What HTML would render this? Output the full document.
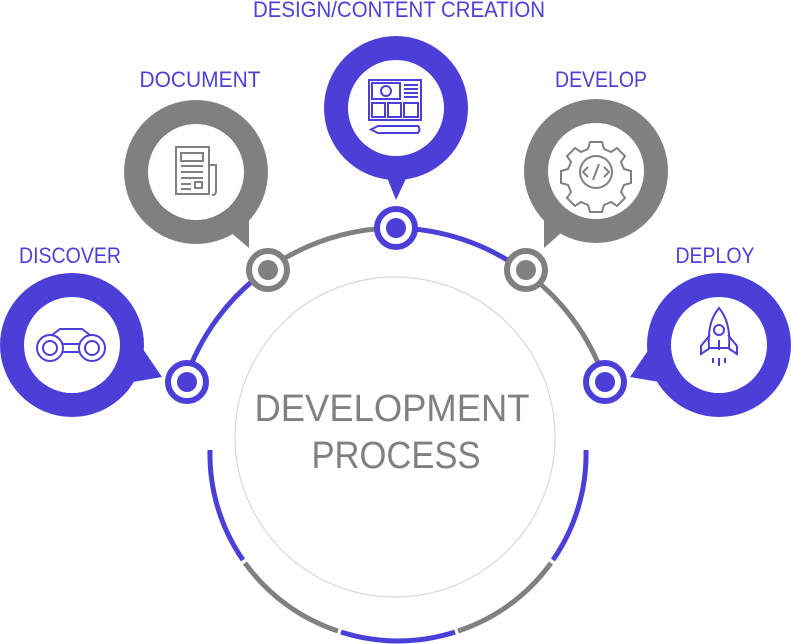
<!DOCTYPE html>
<html><head><meta charset="utf-8"><style>
html,body{margin:0;padding:0;background:#fff;}
svg{display:block}
.lbl{font-family:"Liberation Sans Narrow","Liberation Sans",sans-serif;fill:#4b3fd8;font-size:22px;}
.ctr{font-family:"Liberation Sans",sans-serif;fill:#808080;font-size:38px;font-weight:300}
</style></head><body>
<svg width="791" height="644" viewBox="0 0 791 644" xmlns="http://www.w3.org/2000/svg">
<defs></defs>
<!-- inner circle -->
<circle cx="395" cy="437" r="160" fill="none" stroke="#d6d6dc" stroke-width="1.2"/>
<!-- upper arc segments (center 396,450 r 222) -->
<g fill="none" stroke-width="5">
<path d="M185,381 A222,222 0 0 1 268,269" stroke="#4b3fd8"/>
<path d="M268,269 A222,222 0 0 1 396,228" stroke="#808080"/>
<path d="M396,228 A222,222 0 0 1 521,269" stroke="#4b3fd8"/>
<path d="M521,269 A222,222 0 0 1 605,381" stroke="#808080"/>
<!-- lower arc -->
<path d="M210,450 A186,186 0 0 0 243,560" stroke="#4b3fd8"/>
<path d="M245,563 A186,186 0 0 0 338,631" stroke="#808080"/>
<path d="M341,632 A186,186 0 0 0 455,632" stroke="#4b3fd8"/>
<path d="M458,631 A186,186 0 0 0 551,563" stroke="#808080"/>
<path d="M553,560 A186,186 0 0 0 586,450" stroke="#4b3fd8"/>
</g>
<!-- bubbles -->
<g>
<circle cx="72" cy="345" r="72" fill="#4b3fd8"/>
<path d="M130,330 L162,377 L115,385 Z" fill="#4b3fd8"/>
<circle cx="72" cy="345" r="48" fill="#fff"/>

<circle cx="196" cy="172" r="72" fill="#808080"/>
<path d="M222,225 L249,248 L249,205 Z" fill="#808080"/>
<circle cx="196" cy="172" r="48" fill="#fff"/>

<circle cx="396" cy="108" r="72" fill="#4b3fd8"/>
<path d="M384,170 L396,200 L410,170 Z" fill="#4b3fd8"/>
<circle cx="396" cy="108" r="48" fill="#fff"/>

<circle cx="596" cy="171" r="72" fill="#808080"/>
<path d="M570,225 L544,248 L544,205 Z" fill="#808080"/>
<circle cx="596" cy="171" r="48" fill="#fff"/>

<circle cx="719" cy="345" r="72" fill="#4b3fd8"/>
<path d="M662,330 L630,377 L677,385 Z" fill="#4b3fd8"/>
<circle cx="719" cy="345" r="48" fill="#fff"/>
</g>
<!-- nodes -->
<g>
<circle cx="187" cy="382" r="19" fill="#fff" stroke="#4b3fd8" stroke-width="6"/><circle cx="187" cy="382" r="10" fill="#4b3fd8"/>
<circle cx="268" cy="270" r="19" fill="#fff" stroke="#808080" stroke-width="6"/><circle cx="268" cy="270" r="10" fill="#808080"/>
<circle cx="396" cy="228" r="19" fill="#fff" stroke="#4b3fd8" stroke-width="6"/><circle cx="396" cy="228" r="10" fill="#4b3fd8"/>
<circle cx="526" cy="270" r="19" fill="#fff" stroke="#808080" stroke-width="6"/><circle cx="526" cy="270" r="10" fill="#808080"/>
<circle cx="605" cy="382" r="19" fill="#fff" stroke="#4b3fd8" stroke-width="6"/><circle cx="605" cy="382" r="10" fill="#4b3fd8"/>
</g>
<!-- icons -->
<g fill="none" stroke-width="2">
<!-- binoculars -->
<g stroke="#4b3fd8">
<circle cx="50" cy="348" r="13"/><circle cx="92" cy="348" r="13"/>
<circle cx="50" cy="348" r="7"/><circle cx="92" cy="348" r="7"/>
<path d="M63,344 h16 M63,352 h16 M52,335 l8,-6 h22 l8,6"/>
</g>
<!-- newspaper -->
<g stroke="#808080">
<path d="M176,147 h33 v47 h-33 z M209,165 h7 v26 q0,4 -4,4"/>
<path d="M181,153 h22 v8 h-22 z M181,166 h22 M181,172 h22 M181,178 h22 M181,184 h10 M195,182 h7 v6 h-7 z M181,189 h10"/>
</g>
<!-- design -->
<g stroke="#4b3fd8">
<rect x="369" y="80" width="52" height="40"/>
<rect x="372" y="83" width="28" height="16"/><circle cx="386" cy="91" r="5"/>
<path d="M404,85 h14 M404,89 h14 M404,93 h14 M404,97 h14"/>
<rect x="372" y="103" width="13" height="14"/><rect x="388" y="103" width="13" height="14"/><rect x="404" y="103" width="14" height="14"/>
<path d="M378,126 h40 q3,3 0,7 h-40 l-7,-3.5 z"/>
</g>
<!-- gear -->
<g stroke="#808080">
<path d="M590,142 h12 l2,7 l7,3 l6,-4 l8,8 l-4,6 l3,7 l7,2 v12 l-7,2 l-3,7 l4,6 l-8,8 l-6,-4 l-7,3 l-2,7 h-12 l-2,-7 l-7,-3 l-6,4 l-8,-8 l4,-6 l-3,-7 l-7,-2 v-12 l7,-2 l3,-7 l-4,-6 l8,-8 l6,4 l7,-3 z"/>
<circle cx="596" cy="172" r="16"/>
<path d="M588,167 l-5,5 l5,5 M604,167 l5,5 l-5,5 M599,164 l-6,16"/>
</g>
<!-- rocket -->
<g stroke="#4b3fd8">
<path d="M719,308 q-12,14 -10,40 h20 q2,-26 -10,-40 z"/>
<circle cx="719" cy="330" r="5"/>
<path d="M710,335 l-9,11 v8 l9,-6 M728,335 l9,11 v8 l-9,-6 M719,340 v10"/>
<path d="M713,358 v5 M719,358 v8 M725,358 v5"/>
</g>
</g>
<!-- labels -->
<text class="lbl" x="399" y="17" text-anchor="middle" textLength="292" lengthAdjust="spacingAndGlyphs">DESIGN/CONTENT CREATION</text>
<text class="lbl" x="200" y="87" text-anchor="middle" textLength="121" lengthAdjust="spacingAndGlyphs">DOCUMENT</text>
<text class="lbl" x="601" y="87" text-anchor="middle" textLength="92" lengthAdjust="spacingAndGlyphs">DEVELOP</text>
<text class="lbl" x="70" y="263" text-anchor="middle" textLength="102" lengthAdjust="spacingAndGlyphs">DISCOVER</text>
<text class="lbl" x="715" y="263" text-anchor="middle" textLength="79" lengthAdjust="spacingAndGlyphs">DEPLOY</text>
<text class="ctr" x="392" y="421" text-anchor="middle" textLength="275" lengthAdjust="spacingAndGlyphs">DEVELOPMENT</text>
<text class="ctr" x="396" y="468" text-anchor="middle" textLength="169" lengthAdjust="spacingAndGlyphs">PROCESS</text>
</svg>
</body></html>
